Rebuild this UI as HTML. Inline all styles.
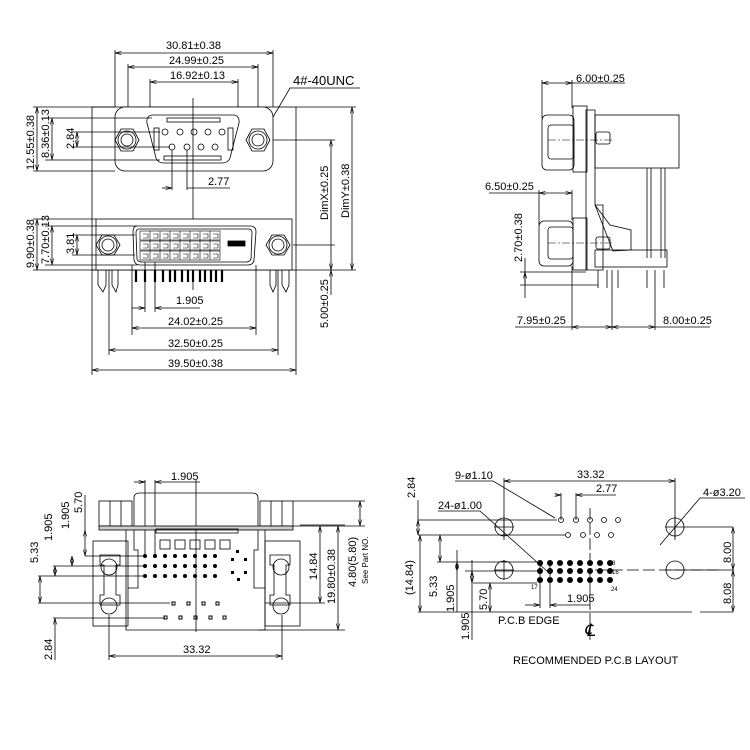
<!DOCTYPE html>
<html><head><meta charset="utf-8"><style>
html,body{margin:0;padding:0;background:#fff}
svg{display:block}
text{font-family:"Liberation Sans",sans-serif;font-size:11px;fill:#000}
</style></head><body>
<svg width="750" height="750" viewBox="0 0 750 750" xmlns="http://www.w3.org/2000/svg">
<defs>
<marker id="a" viewBox="0 0 8 6" refX="8" refY="3" markerWidth="8" markerHeight="6" orient="auto-start-reverse"><path d="M0,1 L8,3 L0,5" fill="none" stroke="#000" stroke-width="0.8"/></marker>
</defs>
<g stroke="#000" stroke-width="0.8" fill="none">
<line x1="115" y1="53" x2="273" y2="53" marker-start="url(#a)" marker-end="url(#a)"/>
<line x1="128" y1="67" x2="258" y2="67" marker-start="url(#a)" marker-end="url(#a)"/>
<line x1="150" y1="82" x2="238" y2="82" marker-start="url(#a)" marker-end="url(#a)"/>
<line x1="115" y1="50" x2="115" y2="107"/><line x1="273" y1="50" x2="273" y2="107"/>
<line x1="128" y1="64" x2="128" y2="140"/><line x1="258" y1="64" x2="258" y2="140"/>
<line x1="150" y1="79" x2="150" y2="125"/><line x1="238" y1="79" x2="238" y2="125"/>
<polyline points="360,88 290,88 262,136"/>
<rect x="92" y="107" width="204" height="163"/>
<rect x="115" y="107" width="158" height="64" rx="10" fill="#fff"/>
<path d="M152,115 L234,115 Q240,116 239,123 L230,158 Q228,163 222,163 L164,163 Q158,163 156,158 L147,123 Q146,116 152,115 Z"/>
<rect x="167" y="118" width="53" height="4"/><rect x="164" y="156" width="57" height="4"/>
<rect x="154" y="128" width="5" height="22"/><rect x="228" y="128" width="5" height="22"/>
<circle cx="165" cy="132" r="3"/><circle cx="180" cy="132" r="3"/><circle cx="194" cy="132" r="3"/><circle cx="208" cy="132" r="3"/><circle cx="222" cy="132" r="3"/>
<circle cx="172" cy="147" r="3"/><circle cx="187" cy="147" r="3"/><circle cx="201" cy="147" r="3"/><circle cx="215" cy="147" r="3"/>
<polygon points="115,140 121,129 133,129 139,140 133,151 121,151"/><circle cx="127" cy="140" r="9"/><circle cx="127" cy="140" r="6"/>
<polygon points="246,140 252,129 264,129 270,140 264,151 252,151"/><circle cx="258" cy="140" r="9"/><circle cx="258" cy="140" r="6"/>
<line x1="193" y1="98" x2="193" y2="290"/>
<line x1="172" y1="150" x2="172" y2="190"/><line x1="187" y1="150" x2="187" y2="190"/>
<line x1="162" y1="188" x2="172" y2="188" marker-end="url(#a)"/><line x1="187" y1="188" x2="230" y2="188"/>
<rect x="96" y="219" width="196" height="51" fill="#fff"/>
<path d="M137,226 L250,226 Q256,226 256,232 L254,260 Q253,265 248,265 L140,265 Q135,265 134,260 L133,232 Q133,226 137,226 Z"/>
<path d="M139,229 L249,229 Q252,229 252,233 L251,259 Q250,262 246,262 L142,262 Q138,262 137,259 L136,233 Q136,229 139,229 Z"/>
<rect x="228" y="241" width="17" height="5" fill="#000"/>
<polygon points="96,245 102,235 114,235 120,245 114,255 102,255"/><circle cx="108" cy="245" r="9"/><circle cx="108" cy="245" r="6"/>
<polygon points="266,245 272,235 284,235 290,245 284,255 272,255"/><circle cx="278" cy="245" r="9"/><circle cx="278" cy="245" r="6"/>
<line x1="293" y1="245" x2="335" y2="245"/><line x1="273" y1="140" x2="335" y2="140"/>
<path d="M98,270 L98,285 L103,292 L106,285 L106,270 M112,270 L112,285 L116,292 L118,285 L118,270"/>
<path d="M270,270 L270,285 L273,292 L276,285 L276,270 M282,270 L282,285 L286,292 L289,285 L289,270"/>
<line x1="109" y1="270" x2="109" y2="355"/><line x1="278" y1="270" x2="278" y2="355"/>
<line x1="132" y1="265" x2="132" y2="335"/><line x1="256" y1="265" x2="256" y2="335"/>
<line x1="92" y1="270" x2="92" y2="375"/><line x1="296" y1="270" x2="296" y2="375"/>
<line x1="145" y1="262" x2="145" y2="312"/><line x1="155" y1="262" x2="155" y2="312"/>
<line x1="132" y1="308" x2="145" y2="308" marker-end="url(#a)"/><line x1="155" y1="308" x2="200" y2="308" marker-start="url(#a)"/>
<line x1="132" y1="328" x2="256" y2="328" marker-start="url(#a)" marker-end="url(#a)"/>
<line x1="109" y1="350" x2="278" y2="350" marker-start="url(#a)" marker-end="url(#a)"/>
<line x1="92" y1="370" x2="296" y2="370" marker-start="url(#a)" marker-end="url(#a)"/>
<line x1="33" y1="107" x2="115" y2="107"/><line x1="33" y1="171" x2="115" y2="171"/>
<line x1="45" y1="118" x2="152" y2="118"/><line x1="45" y1="160" x2="160" y2="160"/>
<line x1="72" y1="132" x2="160" y2="132"/><line x1="72" y1="147" x2="170" y2="147"/>
<line x1="37" y1="107" x2="37" y2="171" marker-start="url(#a)" marker-end="url(#a)"/>
<line x1="52" y1="118" x2="52" y2="160" marker-start="url(#a)" marker-end="url(#a)"/>
<line x1="77" y1="132" x2="77" y2="147" marker-start="url(#a)" marker-end="url(#a)"/>
<line x1="33" y1="219" x2="96" y2="219"/><line x1="33" y1="270" x2="96" y2="270"/>
<line x1="45" y1="226" x2="137" y2="226"/><line x1="45" y1="265" x2="137" y2="265"/>
<line x1="72" y1="235" x2="135" y2="235"/><line x1="72" y1="255" x2="135" y2="255"/>
<line x1="37" y1="219" x2="37" y2="270" marker-start="url(#a)" marker-end="url(#a)"/>
<line x1="52" y1="226" x2="52" y2="265" marker-start="url(#a)" marker-end="url(#a)"/>
<line x1="77" y1="235" x2="77" y2="255" marker-start="url(#a)" marker-end="url(#a)"/>
<line x1="296" y1="107" x2="356" y2="107"/><line x1="296" y1="270" x2="356" y2="270"/>
<line x1="331" y1="140" x2="331" y2="270" marker-start="url(#a)" marker-end="url(#a)"/>
<line x1="352" y1="107" x2="352" y2="270" marker-start="url(#a)" marker-end="url(#a)"/>
<line x1="331" y1="270" x2="331" y2="295" marker-start="url(#a)"/>
</g>
<g stroke="#000" stroke-width="0.6" fill="none">
<rect x="140" y="231" width="80" height="9"/><rect x="140" y="241" width="80" height="9"/><rect x="140" y="251" width="80" height="9"/>
<path d="M150,231v29M160,231v29M170,231v29M180,231v29M190,231v29M200,231v29M210,231v29"/>
<path d="M143,234h5v4h-5M153,234h5v4h-5M163,234h5v4h-5M173,234h5v4h-5M183,234h5v4h-5M193,234h5v4h-5M203,234h5v4h-5M213,234h5v4h-5M143,244h5v4h-5M153,244h5v4h-5M163,244h5v4h-5M173,244h5v4h-5M183,244h5v4h-5M193,244h5v4h-5M203,244h5v4h-5M213,244h5v4h-5M143,254h5v4h-5M153,254h5v4h-5M163,254h5v4h-5M173,254h5v4h-5M183,254h5v4h-5M193,254h5v4h-5M203,254h5v4h-5M213,254h5v4h-5"/>
</g>
<g stroke="#000" stroke-width="2.2">
<path d="M136,270v12M145,270v12M155,270v12M163,270v12M170,270v12M175,270v12M182,270v12M188,270v12M193,270v12M200,270v12M205,270v12M211,270v12M216,270v12M222,270v12"/>
</g>
<g>
<text x="166" y="49">30.81±0.38</text>
<text x="169" y="64">24.99±0.25</text>
<text x="170" y="79">16.92±0.13</text>
<text x="293" y="85" style="font-size:13px">4#-40UNC</text>
<text x="208" y="185">2.77</text>
<text x="176" y="304">1.905</text>
<text x="168" y="325">24.02±0.25</text>
<text x="168" y="347">32.50±0.25</text>
<text x="168" y="367">39.50±0.38</text>
<text transform="translate(34,170) rotate(-90)">12.55±0.38</text>
<text transform="translate(49,158) rotate(-90)">8.36±0.13</text>
<text transform="translate(74,149) rotate(-90)">2.84</text>
<text transform="translate(34,268) rotate(-90)">9.90±0.38</text>
<text transform="translate(49,264) rotate(-90)">7.70±0.13</text>
<text transform="translate(74,254) rotate(-90)">3.81</text>
<text transform="translate(328,220) rotate(-90)">DimX±0.25</text>
<text transform="translate(349,218) rotate(-90)">DimY±0.38</text>
<text transform="translate(328,328) rotate(-90)">5.00±0.25</text>
</g>

<g stroke="#000" stroke-width="0.8" fill="none">
<line x1="542" y1="83" x2="572" y2="83" marker-start="url(#a)" marker-end="url(#a)"/>
<line x1="572" y1="83" x2="625" y2="83"/>
<line x1="542" y1="80" x2="542" y2="118"/><line x1="572" y1="80" x2="572" y2="108"/>
<rect x="542" y="115" width="32" height="55" rx="5"/>
<rect x="548" y="125" width="26" height="34" rx="3"/>
<rect x="573" y="106" width="14" height="66"/>
<path d="M586,110 L595,110 L595,205 L603,205 L603,270 L586,270 Z"/>
<rect x="595" y="115" width="84" height="53"/>
<rect x="596" y="132" width="14" height="12" rx="2"/>
<line x1="647" y1="168" x2="647" y2="258"/><line x1="651" y1="168" x2="651" y2="258"/>
<line x1="661" y1="168" x2="661" y2="258"/><line x1="665" y1="168" x2="665" y2="258"/>
<rect x="539" y="221" width="34" height="45" rx="5"/>
<rect x="548" y="227" width="25" height="32" rx="3"/>
<rect x="573" y="218" width="14" height="52"/>
<path d="M595,205 L610,225 L631,230 L631,250 L613,251 Z"/>
<rect x="595" y="250" width="72" height="17"/>
<rect x="596" y="237" width="14" height="12" rx="2"/>
<path d="M598,270v18M607,270v18M612,270v25M618,270v18M647,270v18M655,270v25M664,270v18"/>
<line x1="489" y1="193" x2="540" y2="193"/>
<line x1="539" y1="193" x2="572" y2="193" marker-start="url(#a)" marker-end="url(#a)"/>
<line x1="539" y1="190" x2="539" y2="225"/><line x1="572" y1="190" x2="572" y2="220"/>
<line x1="520" y1="272" x2="586" y2="272"/><line x1="520" y1="285" x2="598" y2="285"/>
<line x1="525" y1="272" x2="525" y2="298" marker-start="url(#a)"/><line x1="525" y1="258" x2="525" y2="285"/>
<line x1="572" y1="266" x2="572" y2="330"/><line x1="612" y1="295" x2="612" y2="330"/><line x1="655" y1="295" x2="655" y2="330"/>
<line x1="515" y1="327" x2="572" y2="327"/><line x1="572" y1="327" x2="612" y2="327" marker-start="url(#a)" marker-end="url(#a)"/>
<line x1="612" y1="327" x2="655" y2="327" marker-start="url(#a)" marker-end="url(#a)"/><line x1="655" y1="327" x2="710" y2="327"/>
<g stroke-dasharray="8,2,2,2" stroke-width="0.6"><line x1="548" y1="140" x2="612" y2="140"/><line x1="548" y1="243" x2="612" y2="243"/></g>
</g>
<text x="576" y="82">6.00±0.25</text>
<text x="485" y="190">6.50±0.25</text>
<text transform="translate(522,262) rotate(-90)">2.70±0.38</text>
<text x="517" y="324">7.95±0.25</text>
<text x="663" y="324">8.00±0.25</text>

<g stroke="#000" stroke-width="0.8" fill="none">
<line x1="134" y1="482" x2="145" y2="482" marker-end="url(#a)"/><line x1="155" y1="482" x2="200" y2="482" marker-start="url(#a)"/>
<line x1="145" y1="480" x2="145" y2="556"/><line x1="155" y1="480" x2="155" y2="556"/>
<line x1="196" y1="480" x2="196" y2="632"/>
<path d="M134,528 L134,498 Q134,493 140,493 L252,493 Q258,493 258,498 L258,528"/>
<rect x="99" y="501" width="33" height="25"/><path d="M110,501v25M121,501v25"/>
<rect x="260" y="501" width="33" height="25"/><path d="M271,501v25M282,501v25"/>
<rect x="99" y="526" width="194" height="4" fill="#ccc"/>
<path d="M126,530 L126,630 L265,630 L265,530"/>
<path d="M134,530 L134,550 L138,550 L138,588 L128,588 M258,530 L258,550 L254,550 L254,588 L265,588"/>
<rect x="156" y="529" width="82" height="4"/>
<rect x="93" y="541" width="35" height="85"/><rect x="265" y="541" width="35" height="85"/>
<path d="M100,555 h20 v10 h-4 v30 h4 v10 h-20 v-10 h4 v-30 h-4 Z"/>
<path d="M270,555 h20 v10 h-4 v30 h4 v10 h-20 v-10 h4 v-30 h-4 Z"/>
<circle cx="109" cy="567" r="8"/><circle cx="109" cy="606" r="8"/><circle cx="281" cy="567" r="8"/><circle cx="281" cy="606" r="8"/>
<rect x="160" y="540" width="10" height="9"/><rect x="175" y="540" width="10" height="9"/><rect x="190" y="540" width="10" height="9"/><rect x="205" y="540" width="10" height="9"/><rect x="220" y="540" width="10" height="9"/>
<line x1="109" y1="615" x2="109" y2="660"/><line x1="282" y1="615" x2="282" y2="660"/>
<line x1="109" y1="656" x2="282" y2="656" marker-start="url(#a)" marker-end="url(#a)"/>
<path d="M85,556 H145 M53,566 H145 M38,576 H145 M38,603 H170 M53,618 H165"/>
<line x1="40" y1="576" x2="40" y2="603" marker-start="url(#a)" marker-end="url(#a)"/>
<line x1="55" y1="566" x2="55" y2="576" marker-start="url(#a)" marker-end="url(#a)"/>
<line x1="55" y1="618" x2="55" y2="660" marker-start="url(#a)"/>
<line x1="72" y1="556" x2="72" y2="566" marker-start="url(#a)" marker-end="url(#a)"/>
<line x1="85" y1="495" x2="85" y2="530"/><line x1="85" y1="530" x2="85" y2="556" marker-start="url(#a)" marker-end="url(#a)"/>
<path d="M293,501 H365 M293,526 H365 M258,630 H345 M300,525 H345"/>
<line x1="320" y1="526" x2="320" y2="603" marker-start="url(#a)" marker-end="url(#a)"/><line x1="265" y1="603" x2="325" y2="603"/>
<line x1="338" y1="526" x2="338" y2="630" marker-start="url(#a)" marker-end="url(#a)"/>
<line x1="360" y1="501" x2="360" y2="526" marker-start="url(#a)" marker-end="url(#a)"/>
</g>
<g fill="#000">
<circle cx="145" cy="556" r="2"/><circle cx="155" cy="556" r="2"/><circle cx="165" cy="556" r="2"/><circle cx="175" cy="556" r="2"/><circle cx="185" cy="556" r="2"/><circle cx="195" cy="556" r="2"/><circle cx="205" cy="556" r="2"/><circle cx="215" cy="556" r="2"/>
<circle cx="145" cy="566" r="2"/><circle cx="155" cy="566" r="2"/><circle cx="165" cy="566" r="2"/><circle cx="175" cy="566" r="2"/><circle cx="185" cy="566" r="2"/><circle cx="195" cy="566" r="2"/><circle cx="205" cy="566" r="2"/><circle cx="215" cy="566" r="2"/>
<circle cx="145" cy="576" r="2"/><circle cx="155" cy="576" r="2"/><circle cx="165" cy="576" r="2"/><circle cx="175" cy="576" r="2"/><circle cx="185" cy="576" r="2"/><circle cx="195" cy="576" r="2"/><circle cx="205" cy="576" r="2"/><circle cx="215" cy="576" r="2"/>
<rect x="236" y="550" width="3" height="3"/><rect x="231" y="558" width="3" height="3"/><rect x="244" y="558" width="3" height="3"/><rect x="231" y="571" width="3" height="3"/><rect x="244" y="571" width="3" height="3"/><rect x="237" y="578" width="3" height="3"/>
</g>
<g fill="none" stroke="#000" stroke-width="1">
<rect x="172" y="602" width="3" height="3"/><rect x="187" y="602" width="3" height="3"/><rect x="202" y="602" width="3" height="3"/><rect x="216" y="602" width="3" height="3"/>
<rect x="164" y="616" width="3" height="3"/><rect x="179" y="616" width="3" height="3"/><rect x="194" y="616" width="3" height="3"/><rect x="209" y="616" width="3" height="3"/><rect x="223" y="616" width="3" height="3"/>
</g>
<text x="171" y="480">1.905</text>
<text transform="translate(38,563) rotate(-90)">5.33</text>
<text transform="translate(52,541) rotate(-90)">1.905</text>
<text transform="translate(69,529) rotate(-90)">1.905</text>
<text transform="translate(82,513) rotate(-90)">5.70</text>
<text transform="translate(52,660) rotate(-90)">2.84</text>
<text x="183" y="653">33.32</text>
<text transform="translate(317,580) rotate(-90)">14.84</text>
<text transform="translate(335,604) rotate(-90)">19.80±0.38</text>
<text transform="translate(356,587) rotate(-90)">4.80(5.80)</text>
<text transform="translate(368,584) rotate(-90)" style="font-size:8px">See Part NO.</text>

<g stroke="#000" stroke-width="0.8" fill="none">
<line x1="504" y1="481" x2="675" y2="481" marker-start="url(#a)" marker-end="url(#a)"/>
<line x1="504" y1="478" x2="504" y2="540"/><line x1="675" y1="478" x2="675" y2="540"/>
<line x1="555" y1="495" x2="561" y2="495" marker-end="url(#a)"/><line x1="576" y1="495" x2="616" y2="495" marker-start="url(#a)"/>
<line x1="561" y1="493" x2="561" y2="520"/><line x1="576" y1="493" x2="576" y2="520"/>
<circle cx="504" cy="527" r="9"/><circle cx="675" cy="527" r="9"/><circle cx="504" cy="570" r="9"/><circle cx="675" cy="570" r="9"/>
<path d="M494,527h20M504,517v20M665,527h20M675,517v20M494,570h20M504,560v20M665,570h20"/>
<circle cx="561" cy="520" r="2.5"/><circle cx="576" cy="520" r="2.5"/><circle cx="590" cy="520" r="2.5"/><circle cx="604" cy="520" r="2.5"/><circle cx="618" cy="520" r="2.5"/>
<circle cx="568" cy="535" r="2.5"/><circle cx="583" cy="535" r="2.5"/><circle cx="597" cy="535" r="2.5"/><circle cx="611" cy="535" r="2.5"/>
<line x1="590" y1="508" x2="590" y2="640" stroke-dasharray="12,3"/>
<line x1="595" y1="570" x2="720" y2="570" stroke-dasharray="12,4"/>
<polyline points="455,481 493,481 555,518"/>
<polyline points="438,511 480,511 548,572"/>
<polyline points="745,498 700,498 660,545"/>
<path d="M418,520 H557 M418,535 H565 M437,562 H537 M465,571 H537 M473,583 H537 M685,527 H733 M685,570 H733"/>
<line x1="418" y1="612" x2="692" y2="612"/><line x1="700" y1="612" x2="733" y2="612"/>
<line x1="418" y1="520" x2="418" y2="535" marker-start="url(#a)" marker-end="url(#a)"/><line x1="418" y1="500" x2="418" y2="520"/>
<line x1="420" y1="535" x2="420" y2="612" marker-start="url(#a)" marker-end="url(#a)"/>
<line x1="440" y1="535" x2="440" y2="562" marker-start="url(#a)" marker-end="url(#a)"/>
<line x1="457" y1="550" x2="457" y2="612"/><line x1="457" y1="562" x2="457" y2="571" marker-start="url(#a)" marker-end="url(#a)"/>
<line x1="472" y1="560" x2="472" y2="640"/><line x1="472" y1="571" x2="472" y2="583" marker-start="url(#a)" marker-end="url(#a)"/>
<line x1="490" y1="583" x2="490" y2="612" marker-start="url(#a)" marker-end="url(#a)"/>
<line x1="540" y1="560" x2="540" y2="608"/><line x1="550" y1="560" x2="550" y2="608"/>
<line x1="525" y1="605" x2="540" y2="605" marker-end="url(#a)"/><line x1="550" y1="605" x2="590" y2="605" marker-start="url(#a)"/>
<line x1="733" y1="527" x2="733" y2="570" marker-start="url(#a)" marker-end="url(#a)"/>
<line x1="733" y1="570" x2="733" y2="612" marker-start="url(#a)" marker-end="url(#a)"/>
</g>
<g fill="#000">
<circle cx="540" cy="563" r="3"/><circle cx="550" cy="563" r="3"/><circle cx="560" cy="563" r="3"/><circle cx="570" cy="563" r="3"/><circle cx="580" cy="563" r="3"/><circle cx="590" cy="563" r="3"/><circle cx="600" cy="563" r="3"/><circle cx="610" cy="563" r="3"/>
<circle cx="540" cy="571" r="3"/><circle cx="550" cy="571" r="3"/><circle cx="560" cy="571" r="3"/><circle cx="570" cy="571" r="3"/><circle cx="580" cy="571" r="3"/><circle cx="590" cy="571" r="3"/><circle cx="600" cy="571" r="3"/><circle cx="610" cy="571" r="3"/>
<circle cx="540" cy="580" r="3"/><circle cx="550" cy="580" r="3"/><circle cx="560" cy="580" r="3"/><circle cx="570" cy="580" r="3"/><circle cx="580" cy="580" r="3"/><circle cx="590" cy="580" r="3"/><circle cx="600" cy="580" r="3"/><circle cx="610" cy="580" r="3"/>
</g>
<text x="455" y="479">9-ø1.10</text>
<text x="438" y="509">24-ø1.00</text>
<text x="577" y="478">33.32</text>
<text x="596" y="492">2.77</text>
<text x="703" y="496">4-ø3.20</text>
<text x="567" y="602">1.905</text>
<text x="498" y="624">P.C.B EDGE</text>
<text x="584" y="636" style="font-family:'Liberation Serif',serif;font-size:17px;font-style:italic">℄</text>
<text x="513" y="664">RECOMMENDED P.C.B LAYOUT</text>
<text x="612" y="565" style="font-size:6px">8</text><text x="612" y="574" style="font-size:6px">16</text><text x="611" y="591" style="font-size:6px">24</text><text x="531" y="589" style="font-size:6px">17</text>
<text transform="translate(415,498) rotate(-90)">2.84</text>
<text transform="translate(413,595) rotate(-90)">(14.84)</text>
<text transform="translate(437,597) rotate(-90)">5.33</text>
<text transform="translate(454,612) rotate(-90)">1.905</text>
<text transform="translate(469,640) rotate(-90)">1.905</text>
<text transform="translate(487,610) rotate(-90)">5.70</text>
<text transform="translate(731,563) rotate(-90)">8.00</text>
<text transform="translate(731,604) rotate(-90)">8.08</text>
</svg>
</body></html>
